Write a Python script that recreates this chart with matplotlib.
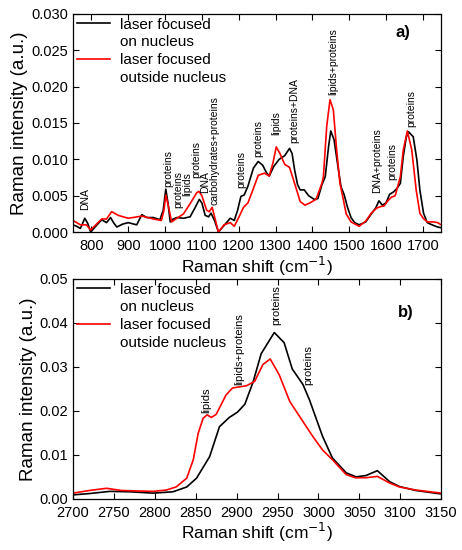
import matplotlib.pyplot as plt
from matplotlib.lines import Line2D

plt.rcParams['font.family'] = ['Liberation Sans', 'DejaVu Sans']

# panel a) fingerprint region
shift_a_nuc = [750, 760, 770, 782, 790, 798, 810, 828, 841, 852, 860, 869, 885, 900, 923, 937, 950, 968, 986, 995,
               1002, 1008, 1014, 1022, 1032, 1050, 1068, 1081, 1093, 1100, 1109, 1118, 1125, 1135, 1145, 1160, 1177,
               1188, 1197, 1206, 1215, 1225, 1240, 1253, 1265, 1275, 1283, 1295, 1310, 1325, 1338, 1345, 1352, 1360,
               1367, 1378, 1390, 1405, 1415, 1426, 1435, 1444, 1450, 1459, 1471, 1478, 1486, 1495, 1505, 1515, 1527,
               1545, 1560, 1572, 1581, 1590, 1600, 1610, 1620, 1630, 1639, 1647, 1655, 1661, 1674, 1684, 1692, 1702,
               1712, 1725, 1740, 1750]
int_a_nuc = [0.0010, 0.0008, 0.0005, 0.0019, 0.0012, 0.0000, 0.0007, 0.0017, 0.0013, 0.0020, 0.0013, 0.0007, 0.0011,
             0.0013, 0.0010, 0.0024, 0.0020, 0.0020, 0.0017, 0.0030, 0.0059, 0.0040, 0.0014, 0.0018, 0.0020, 0.0019,
             0.0021, 0.0033, 0.0045, 0.0040, 0.0023, 0.0021, 0.0026, 0.0015, 0.0000, 0.0009, 0.0019, 0.0016, 0.0030,
             0.0049, 0.0051, 0.0063, 0.0088, 0.0097, 0.0092, 0.0082, 0.0077, 0.0090, 0.0100, 0.0105, 0.0115, 0.0108,
             0.0085, 0.0065, 0.0058, 0.0058, 0.0050, 0.0045, 0.0046, 0.0065, 0.0076, 0.0117, 0.0139, 0.0127, 0.0085,
             0.0062, 0.0052, 0.0035, 0.0020, 0.0013, 0.0010, 0.0014, 0.0025, 0.0033, 0.0043, 0.0037, 0.0040, 0.0052,
             0.0055, 0.0060, 0.0067, 0.0104, 0.0130, 0.0138, 0.0131, 0.0099, 0.0058, 0.0026, 0.0013, 0.0010, 0.0007,
             0.0006]

shift_a_out = [750, 760, 770, 786, 798, 812, 828, 841, 855, 873, 900, 937, 968, 990, 997, 1002, 1008, 1018, 1032,
               1050, 1068, 1086, 1092, 1100, 1113, 1120, 1128, 1135, 1145, 1160, 1177, 1188, 1200, 1213, 1225, 1240,
               1253, 1270, 1283, 1293, 1302, 1312, 1325, 1338, 1350, 1367, 1380, 1393, 1410, 1426, 1430, 1439, 1448,
               1457, 1466, 1475, 1484, 1492, 1505, 1527, 1545, 1560, 1575, 1585, 1595, 1605, 1615, 1625, 1639, 1647,
               1658, 1670, 1682, 1692, 1701, 1712, 1730, 1740, 1750]
int_a_out = [0.0016, 0.0013, 0.0010, 0.0010, 0.0003, 0.0010, 0.0018, 0.0018, 0.0028, 0.0023, 0.0019, 0.0022, 0.0018,
             0.0016, 0.0030, 0.0051, 0.0038, 0.0014, 0.0019, 0.0025, 0.0039, 0.0054, 0.0056, 0.0050, 0.0030, 0.0028,
             0.0034, 0.0020, 0.0000, 0.0010, 0.0013, 0.0008, 0.0020, 0.0034, 0.0040, 0.0060, 0.0078, 0.0081, 0.0077,
             0.0095, 0.0117, 0.0108, 0.0093, 0.0089, 0.0070, 0.0042, 0.0037, 0.0040, 0.0045, 0.0067, 0.0076, 0.0145,
             0.0182, 0.0168, 0.0113, 0.0067, 0.0045, 0.0025, 0.0014, 0.0008, 0.0015, 0.0026, 0.0033, 0.0035, 0.0036,
             0.0043, 0.0048, 0.0050, 0.0076, 0.0113, 0.0139, 0.0113, 0.0058, 0.0026, 0.0019, 0.0014, 0.0014, 0.0013,
             0.0010]

# band assignments, panel a: label, position, height of label bottom
labels_a = ['DNA', 'proteins', 'proteins', 'lipids', 'proteins', 'DNA', 'carbohydrates+proteins', 'proteins',
            'proteins', 'lipids', 'proteins+DNA', 'lipids+proteins', 'DNA+proteins', 'proteins', 'proteins']
lab_x_a = [784, 1010, 1035, 1061, 1085, 1108, 1133, 1206, 1254, 1303, 1350, 1456, 1577, 1616, 1668]
lab_y_a = [0.0030, 0.0062, 0.0033, 0.0049, 0.0074, 0.0054, 0.0037, 0.0061, 0.0103, 0.0133, 0.0122, 0.0189, 0.0054,
           0.0072, 0.0145]

# panel b) high wavenumber region
shift_b_nuc = [2700, 2720, 2745, 2770, 2798, 2822, 2839, 2851, 2867, 2879, 2891, 2901, 2910, 2920, 2930, 2946, 2958,
               2968, 2981, 2989, 3005, 3017, 3034, 3046, 3058, 3072, 3087, 3099, 3119, 3150]
int_b_nuc = [0.0009, 0.0012, 0.0017, 0.0016, 0.0013, 0.0016, 0.0027, 0.0047, 0.0096, 0.0164, 0.0185, 0.0197, 0.0215,
             0.0265, 0.0330, 0.0378, 0.0355, 0.0295, 0.0260, 0.0225, 0.0142, 0.0093, 0.0059, 0.0050, 0.0053, 0.0064,
             0.0039, 0.0028, 0.0019, 0.0011]

shift_b_out = [2700, 2720, 2741, 2759, 2798, 2814, 2826, 2839, 2847, 2853, 2859, 2864, 2869, 2875, 2887, 2895, 2912,
               2922, 2932, 2941, 2952, 2965, 2977, 2993, 3005, 3017, 3034, 3045, 3058, 3072, 3087, 3099, 3119, 3150]
int_b_out = [0.0013, 0.0019, 0.0024, 0.0019, 0.0017, 0.0020, 0.0027, 0.0047, 0.0089, 0.0149, 0.0183, 0.0191, 0.0185,
             0.0192, 0.0236, 0.0252, 0.0257, 0.0267, 0.0305, 0.0318, 0.0282, 0.0221, 0.0187, 0.0142, 0.0111, 0.0089,
             0.0055, 0.0048, 0.0048, 0.0051, 0.0036, 0.0027, 0.0020, 0.0013]

labels_b = ['lipids', 'lipids+proteins', 'proteins', 'proteins']
lab_x_b = [2863, 2903, 2948, 2987]
lab_y_b = [0.0195, 0.0259, 0.0395, 0.0259]


def style_axes(ax):
    ax.tick_params(direction='in', top=True, right=True, length=4, width=0.8, labelsize=10.5)
    ax.tick_params(axis='x', pad=5)
    for s in ax.spines.values():
        s.set_linewidth(0.9)
    ax.set_xlabel('Raman shift (cm$^{-1}$)', fontsize=12.5, labelpad=1)
    ax.set_ylabel('Raman intensity (a.u.)', fontsize=13.5, labelpad=2)
    # legend with two-line labels, handle next to the first line
    blank = Line2D([], [], color='none')
    handles = [Line2D([], [], color='black', lw=1.2), blank, Line2D([], [], color='red', lw=1.2), blank]
    texts = ['laser focused', 'on nucleus', 'laser focused', 'outside nucleus']
    ax.legend(handles, texts, loc='upper left', frameon=False, fontsize=11, handlelength=2.2,
              handletextpad=0.6, labelspacing=0.25, borderaxespad=0.1, borderpad=0.15)


fig = plt.figure(figsize=(4.62, 5.5), dpi=100)
ax1 = fig.add_axes([0.158, 0.578, 0.797, 0.397])
ax2 = fig.add_axes([0.158, 0.093, 0.797, 0.400])

ax1.plot(shift_a_nuc, int_a_nuc, color='black', lw=1.2)
ax1.plot(shift_a_out, int_a_out, color='red', lw=1.2)
for t, x, y in zip(labels_a, lab_x_a, lab_y_a):
    ax1.text(x, y, t, rotation=90, ha='center', va='bottom', fontsize=7.5, linespacing=1.0)
ax1.set_xlim(750, 1750)
ax1.set_ylim(0, 0.030)
ax1.set_xticks(range(800, 1701, 100))
ax1.set_yticks([0, 0.005, 0.010, 0.015, 0.020, 0.025, 0.030])
ax1.set_yticklabels(['0.000', '0.005', '0.010', '0.015', '0.020', '0.025', '0.030'])
ax1.text(0.897, 0.915, 'a)', transform=ax1.transAxes, fontsize=12, fontweight='bold', ha='center', va='center')
style_axes(ax1)

ax2.plot(shift_b_nuc, int_b_nuc, color='black', lw=1.2)
ax2.plot(shift_b_out, int_b_out, color='red', lw=1.2)
for t, x, y in zip(labels_b, lab_x_b, lab_y_b):
    ax2.text(x, y, t, rotation=90, ha='center', va='bottom', fontsize=8)
ax2.set_xlim(2700, 3150)
ax2.set_ylim(0, 0.05)
ax2.set_xticks(range(2700, 3151, 50))
ax2.set_yticks([0, 0.01, 0.02, 0.03, 0.04, 0.05])
ax2.set_yticklabels(['0.00', '0.01', '0.02', '0.03', '0.04', '0.05'])
ax2.text(0.905, 0.845, 'b)', transform=ax2.transAxes, fontsize=12, fontweight='bold', ha='center', va='center')
style_axes(ax2)

fig.savefig('out.png', dpi=100)
